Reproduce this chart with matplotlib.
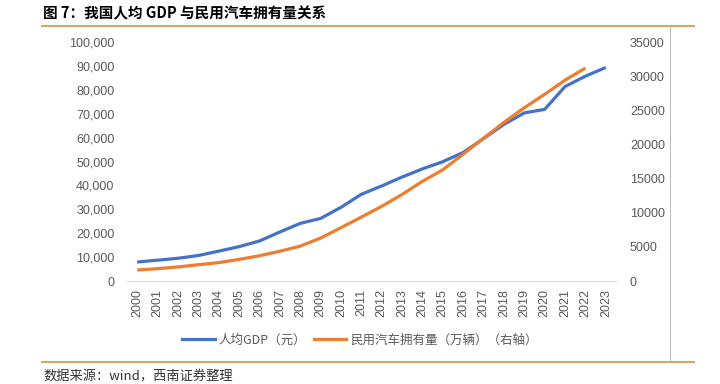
import matplotlib
matplotlib.use('Agg')
import matplotlib.pyplot as plt
from matplotlib.lines import Line2D
from matplotlib.ticker import FuncFormatter

plt.rcParams['font.family'] = ['Noto Sans CJK SC', 'DejaVu Sans']

# Data
years = [str(y) for y in range(2000, 2024)]
gdp_per_capita = [7942, 8717, 9506, 10666, 12487, 14368, 16738, 20494, 24100, 26180,
                  30808, 36277, 39771, 43497, 46912, 49922, 53783, 59592, 65534, 70328,
                  71828, 81370, 85698, 89358]
car_years = years[:-1]
car_ownership = [1609, 1802, 2053, 2383, 2694, 3160, 3697, 4358, 5100, 6281,
                 7802, 9356, 10933, 12670, 14598, 16284, 18575, 20907, 23231, 25376,
                 27341, 29419, 31184]

blue = '#4472C4'
orange = '#ED7D31'
gray_text = '#595959'
gold = '#D4A865'

fig = plt.figure(figsize=(7.2, 3.84), dpi=100)
ax = fig.add_axes([127 / 720, 1 - 281 / 384, (616 - 127) / 720, (281 - 42) / 384])
ax2 = ax.twinx()

x_gdp = range(len(years))
x_car = range(len(car_years))
ax.plot(x_gdp, gdp_per_capita, color=blue, lw=2.3, solid_capstyle='butt')
ax2.plot(x_car, car_ownership, color=orange, lw=2.3, solid_capstyle='butt')

ax.set_xlim(-0.5, len(years) - 0.5)
ax.set_ylim(0, 100000)
ax2.set_ylim(0, 35000)
ax.set_yticks(range(0, 100001, 10000))
ax2.set_yticks(range(0, 35001, 5000))
ax.yaxis.set_major_formatter(FuncFormatter(lambda v, _: '{:,.0f}'.format(v)))
ax.set_xticks(list(x_gdp))
ax.set_xticklabels(years, rotation=90)

for a in (ax, ax2):
    for s in a.spines.values():
        s.set_visible(False)
    a.tick_params(length=0, labelsize=9, colors=gray_text)
    for lbl in a.get_xticklabels() + a.get_yticklabels():
        lbl.set_fontfamily(['Liberation Sans', 'DejaVu Sans'])
ax.spines['bottom'].set_visible(True)
ax.spines['bottom'].set_color('#D9D9D9')
ax.tick_params(axis='y', pad=9)
ax2.tick_params(axis='y', pad=10)
ax.tick_params(axis='x', pad=6)

handles = [Line2D([], [], color=blue, lw=2.3), Line2D([], [], color=orange, lw=2.3)]
fig.legend(handles, ['人均GDP（元）', '民用汽车拥有量（万辆）（右轴）'],
           loc='center', bbox_to_anchor=(360 / 720, 1 - 340 / 384), ncol=2,
           frameon=False, fontsize=9, handlelength=2.6, columnspacing=0.6,
           handletextpad=0.3, labelcolor=gray_text)

# Page decorations
fig.add_artist(Line2D([42 / 720, 694 / 720], [1 - 26 / 384] * 2, color=gold, lw=1.5))
fig.add_artist(Line2D([42 / 720, 694 / 720], [1 - 362 / 384] * 2, color=gold, lw=1.5))
fig.add_artist(Line2D([670 / 720] * 2, [1 - 27 / 384, 1 - 360 / 384], color='#BFBFBF', lw=0.8))

fig.text(43 / 720, 1 - 13 / 384, '图 7：我国人均 GDP 与民用汽车拥有量关系',
         fontsize=10.5, fontweight='bold', va='center', ha='left', color='black')
fig.text(43 / 720, 1 - 377 / 384, '数据来源：wind，西南证券整理',
         fontsize=9.5, style='italic', va='center', ha='left', color='#333333')

fig.savefig('out.png', dpi=100)
